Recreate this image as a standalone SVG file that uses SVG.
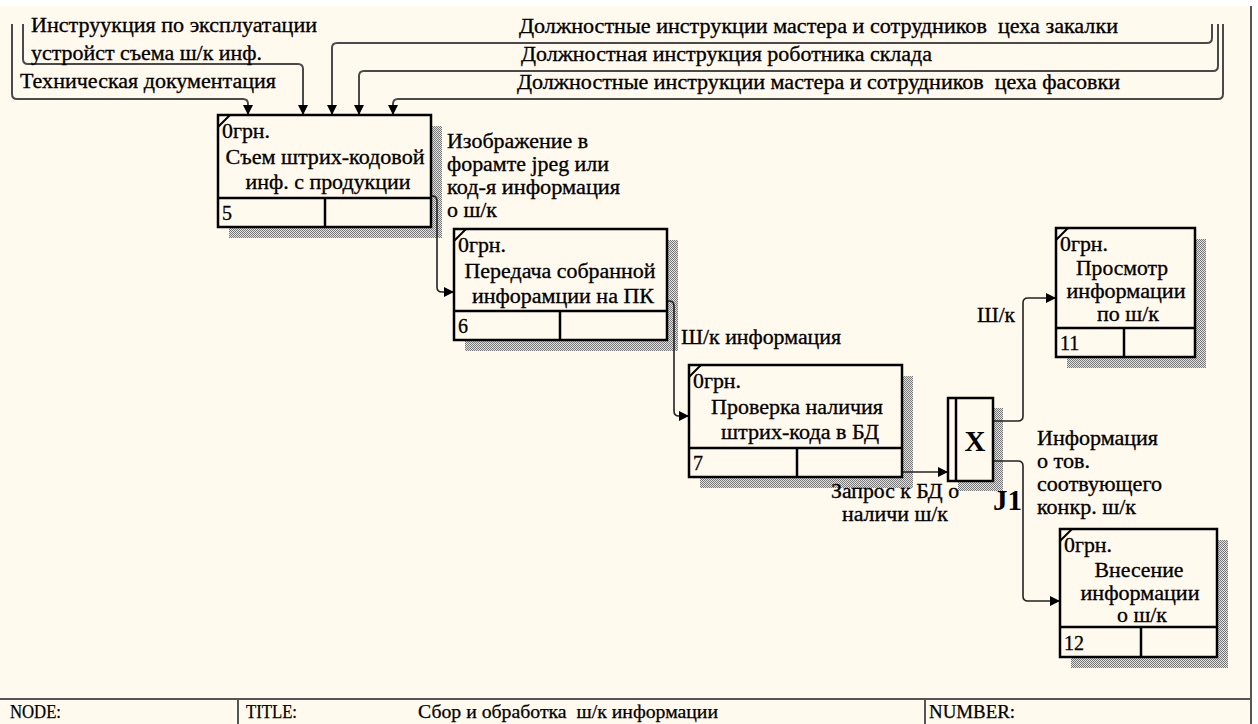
<svg xmlns="http://www.w3.org/2000/svg" width="1258" height="724" viewBox="0 0 1258 724">
  <defs>
    <pattern id="dots" width="2" height="2" patternUnits="userSpaceOnUse">
      <rect width="2" height="2" fill="#e6e3da"/>
      <rect width="1" height="1" fill="#777"/>
      <rect x="1" y="1" width="1" height="1" fill="#777"/>
    </pattern>
    <marker id="ah" viewBox="0 0 10 10" refX="10" refY="5" markerWidth="11" markerHeight="10" markerUnits="userSpaceOnUse" orient="auto">
      <path d="M0,0 L10,5 L0,10 Z" fill="#000"/>
    </marker>
    <style>
      .bg { fill: #FFF9EE; }
      .frame { fill: none; stroke: #555; stroke-width: 2; }
      .box { fill: #FFF9EE; stroke: #000; stroke-width: 2.5; }
      .div { stroke: #000; stroke-width: 2.5; fill: none; }
      .tick { stroke: #000; stroke-width: 2; }
      .shadow { fill: url(#dots); }
      .t { font-family: "Liberation Serif", "DejaVu Serif", "Times New Roman", serif; font-size: 20px; fill: #000; stroke: #000; stroke-width: 0.3; white-space: pre; }
      .c { text-anchor: middle; }
      .big { font-size: 29px; font-weight: bold; stroke: none; }
      .foot { font-family: "Liberation Serif", "DejaVu Serif", "Times New Roman", serif; font-size: 18px; fill: #000; stroke: #000; stroke-width: 0.25; white-space: pre; }
      .arrow { fill: none; stroke: #222; stroke-width: 1.6; marker-end: url(#ah); }
      .ctl { fill: none; stroke: #4a4a4a; stroke-width: 2; marker-end: url(#ah); }
    </style>
  </defs>

  <!-- sheet -->
  <g id="sheet">
    <rect x="0" y="0" width="1258" height="724" fill="#fff"/>
    <rect class="bg" x="0" y="6" width="1251" height="718"/>
    <line class="frame" x1="1251" y1="6" x2="1251" y2="724"/>
    <line class="frame" x1="0" y1="699" x2="1251" y2="699"/>
    <line class="frame" x1="238" y1="699" x2="238" y2="724"/>
    <line class="frame" x1="925" y1="699" x2="925" y2="724"/>
    <text class="foot" x="10" y="718" textLength="51" lengthAdjust="spacingAndGlyphs">NODE:</text>
    <text class="foot" x="246" y="718" textLength="51" lengthAdjust="spacingAndGlyphs">TITLE:</text>
    <text class="foot" x="418" y="718" textLength="300" lengthAdjust="spacingAndGlyphs">Сбор и обработка  ш/к информации</text>
    <text class="foot" x="929" y="718" textLength="86" lengthAdjust="spacingAndGlyphs">NUMBER:</text>
  </g>

  <!-- shadows behind activity boxes -->
  <g id="shadows">
    <rect class="shadow" x="229" y="126" width="213" height="112"/>
    <rect class="shadow" x="465" y="240" width="213" height="111"/>
    <rect class="shadow" x="700" y="376" width="213" height="112"/>
    <rect class="shadow" x="1067" y="239" width="139" height="129"/>
    <rect class="shadow" x="1071" y="540" width="157" height="128"/>
    <rect class="shadow" x="958" y="408" width="45" height="83"/>
  </g>

  <!-- connectors -->
  <g id="connectors">
    <path class="ctl" d="M12,24 V94 Q12,99 17,99 H243 Q248,99 248,104 V115"/>
    <path class="ctl" d="M23,24 V59 Q23,64 28,64 H298 Q303,64 303,69 V115"/>
    <path class="ctl" d="M1212,24 V38 Q1212,43 1207,43 H337 Q332,43 332,48 V115"/>
    <path class="ctl" d="M1218,24 V66 Q1218,71 1213,71 H364 Q359,71 359,76 V115"/>
    <path class="ctl" d="M1223,24 V94 Q1223,99 1218,99 H398 Q393,99 393,104 V115"/>

    <path class="arrow" d="M431,196 H432 Q437,196 437,201 V287 Q437,292 442,292 H454"/>
    <path class="arrow" d="M667,301 H669 Q674,301 674,306 V411 Q674,416 679,416 H689"/>
    <path class="arrow" d="M902,472 H948"/>
    <path class="arrow" d="M993,421 H1018 Q1023,421 1023,416 V303 Q1023,298 1028,298 H1056"/>
    <path class="arrow" d="M993,461 H1018 Q1023,461 1023,466 V596 Q1023,601 1028,601 H1060"/>

    <text class="t" x="31" y="32" textLength="286" lengthAdjust="spacingAndGlyphs">Инструукция по эксплуатации</text>
    <text class="t" x="31" y="60" textLength="231" lengthAdjust="spacingAndGlyphs">устройст съема ш/к инф.</text>
    <text class="t" x="20" y="88" textLength="256" lengthAdjust="spacingAndGlyphs">Техническая документация</text>
    <text class="t" x="519" y="33" textLength="599" lengthAdjust="spacingAndGlyphs">Должностные инструкции мастера и сотрудников  цеха закалки</text>
    <text class="t" x="521" y="61" textLength="411" lengthAdjust="spacingAndGlyphs">Должностная инструкция роботника склада</text>
    <text class="t" x="517" y="89" textLength="603" lengthAdjust="spacingAndGlyphs">Должностные инструкции мастера и сотрудников  цеха фасовки</text>

    <text class="t" x="447" y="148" textLength="141" lengthAdjust="spacingAndGlyphs">Изображение в</text>
    <text class="t" x="447" y="171" textLength="162" lengthAdjust="spacingAndGlyphs">форамте jpeg или</text>
    <text class="t" x="447" y="194" textLength="173" lengthAdjust="spacingAndGlyphs">код-я информация</text>
    <text class="t" x="447" y="217" textLength="50" lengthAdjust="spacingAndGlyphs">о ш/к</text>

    <text class="t" x="681" y="344" textLength="160" lengthAdjust="spacingAndGlyphs">Ш/к информация</text>

    <text class="t c" x="895" y="498" textLength="128" lengthAdjust="spacingAndGlyphs">Запрос к БД о</text>
    <text class="t c" x="895" y="521" textLength="106" lengthAdjust="spacingAndGlyphs">наличи ш/к</text>

    <text class="t" x="977" y="322" textLength="38" lengthAdjust="spacingAndGlyphs">Ш/к</text>

    <text class="t" x="1037" y="445" textLength="121" lengthAdjust="spacingAndGlyphs">Информация</text>
    <text class="t" x="1037" y="468" textLength="53" lengthAdjust="spacingAndGlyphs">о тов.</text>
    <text class="t" x="1037" y="491" textLength="125" lengthAdjust="spacingAndGlyphs">соотвующего</text>
    <text class="t" x="1037" y="514" textLength="99" lengthAdjust="spacingAndGlyphs">конкр. ш/к</text>
  </g>

  <!-- activity 5 -->
  <g id="box-5">
    <rect class="box" x="218" y="115" width="213" height="112"/>
    <line class="tick" x1="218" y1="127" x2="230" y2="115"/>
    <line class="div" x1="218" y1="198" x2="431" y2="198"/>
    <line class="div" x1="325" y1="198" x2="325" y2="227"/>
    <text class="t" x="222" y="138" textLength="48" lengthAdjust="spacingAndGlyphs">0грн.</text>
    <text class="t c" x="325" y="164" textLength="199" lengthAdjust="spacingAndGlyphs">Съем штрих-кодовой</text>
    <text class="t c" x="328" y="189" textLength="165" lengthAdjust="spacingAndGlyphs">инф. с продукции</text>
    <text class="t" x="222" y="220">5</text>
  </g>

  <!-- activity 6 -->
  <g id="box-6">
    <rect class="box" x="454" y="229" width="213" height="111"/>
    <line class="tick" x1="454" y1="241" x2="466" y2="229"/>
    <line class="div" x1="454" y1="311" x2="667" y2="311"/>
    <line class="div" x1="560" y1="311" x2="560" y2="340"/>
    <text class="t" x="458" y="252" textLength="48" lengthAdjust="spacingAndGlyphs">0грн.</text>
    <text class="t c" x="560" y="278" textLength="191" lengthAdjust="spacingAndGlyphs">Передача собранной</text>
    <text class="t c" x="563" y="303" textLength="182" lengthAdjust="spacingAndGlyphs">инфорамции на ПК</text>
    <text class="t" x="458" y="333">6</text>
  </g>

  <!-- activity 7 -->
  <g id="box-7">
    <rect class="box" x="689" y="365" width="213" height="112"/>
    <line class="tick" x1="689" y1="377" x2="701" y2="365"/>
    <line class="div" x1="689" y1="448" x2="902" y2="448"/>
    <line class="div" x1="797" y1="448" x2="797" y2="477"/>
    <text class="t" x="693" y="388" textLength="48" lengthAdjust="spacingAndGlyphs">0грн.</text>
    <text class="t c" x="797" y="414" textLength="172" lengthAdjust="spacingAndGlyphs">Проверка наличия</text>
    <text class="t c" x="800" y="439" textLength="158" lengthAdjust="spacingAndGlyphs">штрих-кода в БД</text>
    <text class="t" x="693" y="470">7</text>
  </g>

  <!-- activity 11 -->
  <g id="box-11">
    <rect class="box" x="1056" y="228" width="139" height="129"/>
    <line class="tick" x1="1056" y1="240" x2="1068" y2="228"/>
    <line class="div" x1="1056" y1="328" x2="1195" y2="328"/>
    <line class="div" x1="1124" y1="328" x2="1124" y2="357"/>
    <text class="t" x="1060" y="251" textLength="48" lengthAdjust="spacingAndGlyphs">0грн.</text>
    <text class="t c" x="1122" y="275" textLength="92" lengthAdjust="spacingAndGlyphs">Просмотр</text>
    <text class="t c" x="1126" y="298" textLength="119" lengthAdjust="spacingAndGlyphs">информации</text>
    <text class="t c" x="1128" y="321" textLength="62" lengthAdjust="spacingAndGlyphs">по ш/к</text>
    <text class="t" x="1060" y="350">11</text>
  </g>

  <!-- activity 12 -->
  <g id="box-12">
    <rect class="box" x="1060" y="529" width="157" height="128"/>
    <line class="tick" x1="1060" y1="541" x2="1072" y2="529"/>
    <line class="div" x1="1060" y1="627" x2="1217" y2="627"/>
    <line class="div" x1="1141" y1="627" x2="1141" y2="657"/>
    <text class="t" x="1064" y="552" textLength="48" lengthAdjust="spacingAndGlyphs">0грн.</text>
    <text class="t c" x="1139" y="577" textLength="89" lengthAdjust="spacingAndGlyphs">Внесение</text>
    <text class="t c" x="1140" y="600" textLength="119" lengthAdjust="spacingAndGlyphs">информации</text>
    <text class="t c" x="1142" y="622" textLength="50" lengthAdjust="spacingAndGlyphs">о ш/к</text>
    <text class="t" x="1064" y="650">12</text>
  </g>

  <!-- junction J1 -->
  <g id="junction-j1">
    <rect class="box" x="948" y="398" width="45" height="83"/>
    <line class="div" x1="956" y1="398" x2="956" y2="481"/>
    <text class="t big c" x="975" y="451">X</text>
    <text class="t big" x="993" y="510">J1</text>
  </g>
</svg>
